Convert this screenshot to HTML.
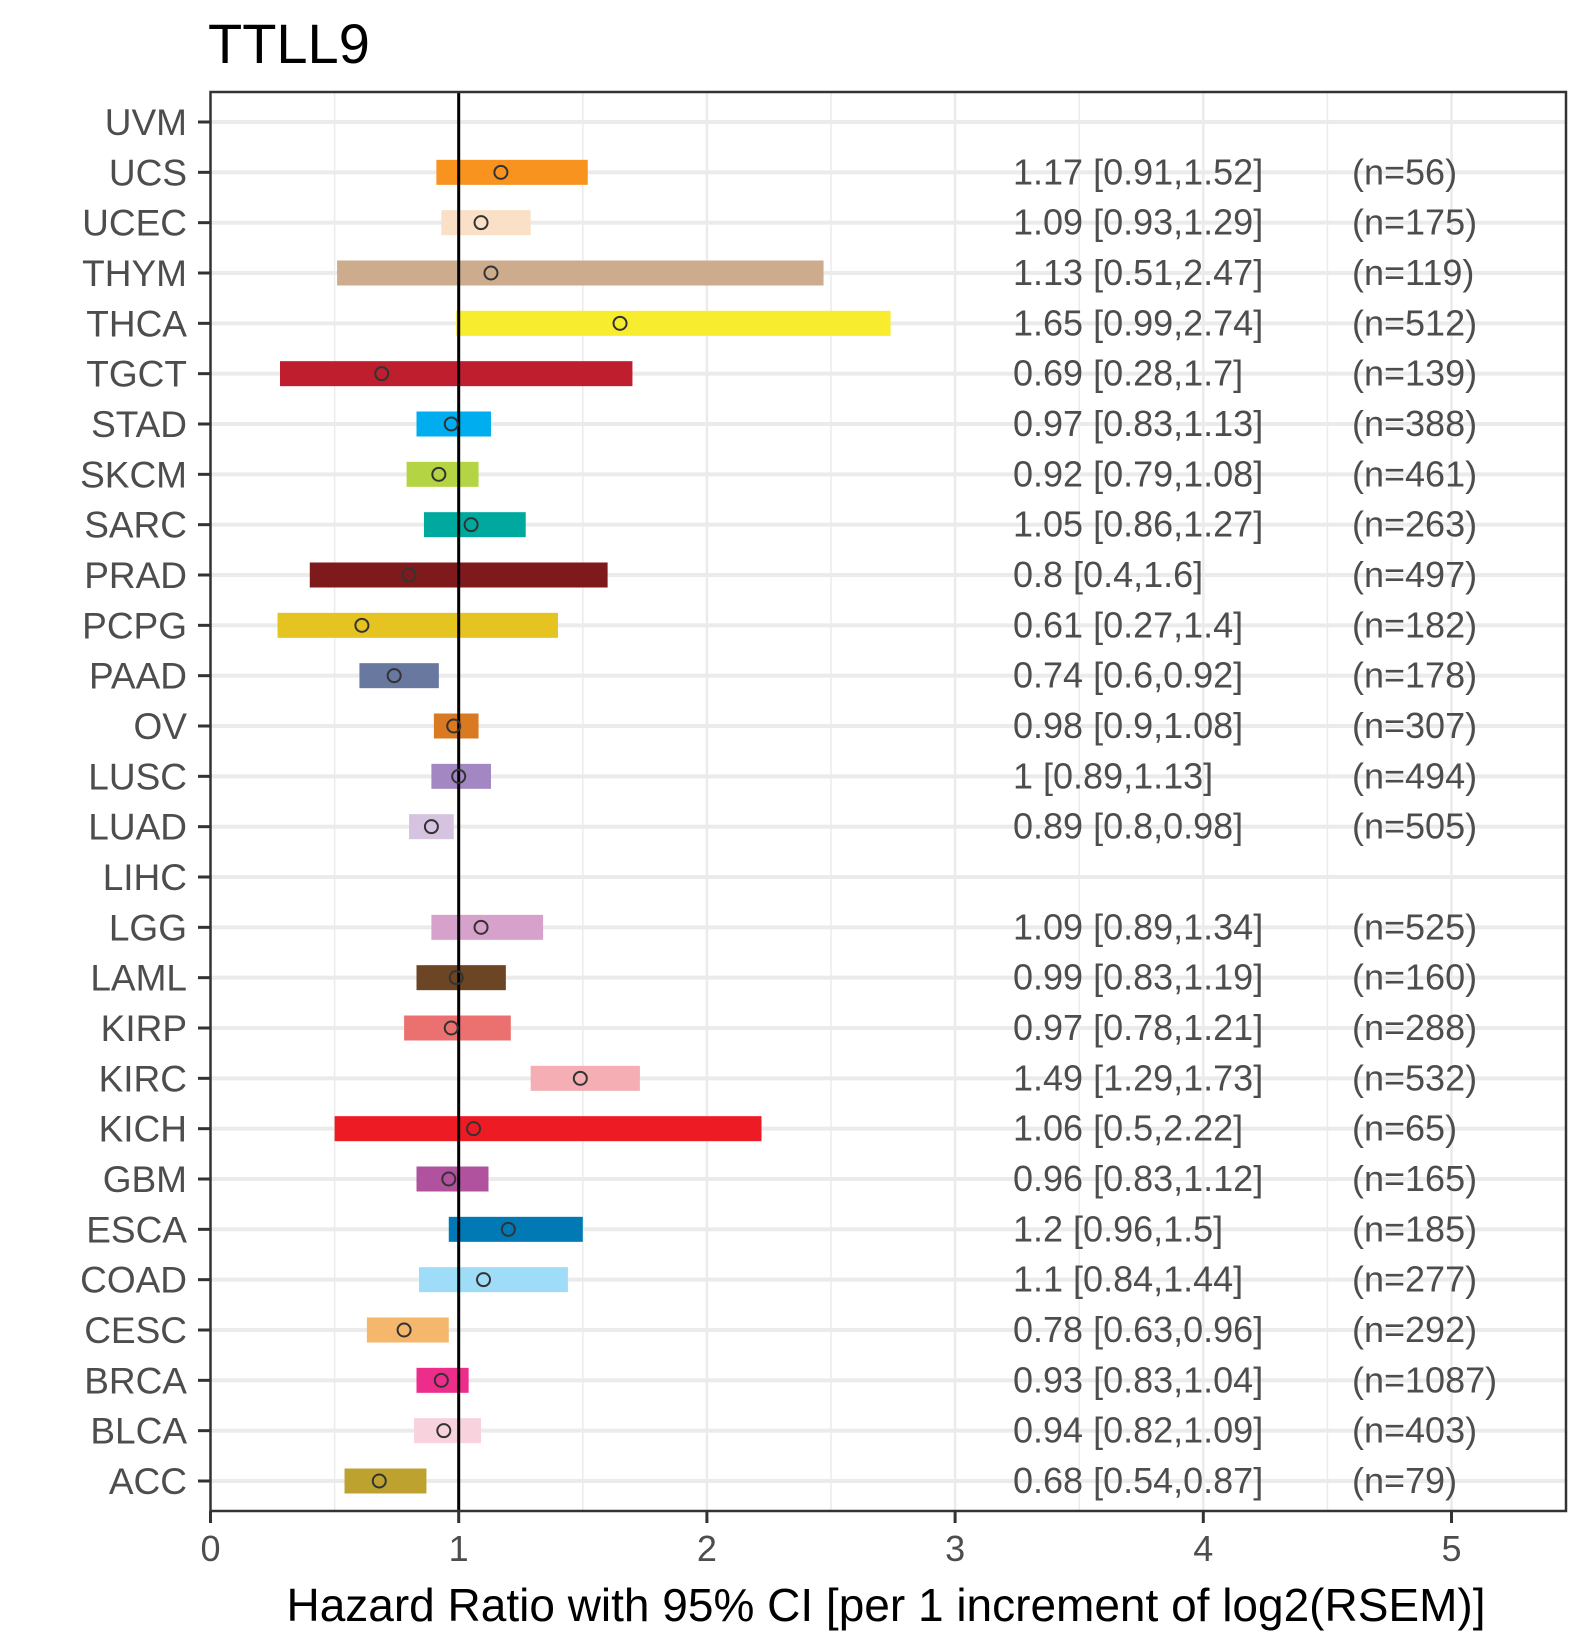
<!DOCTYPE html>
<html><head><meta charset="utf-8"><style>
html,body{margin:0;padding:0;background:#fff;}
svg{display:block;font-family:"Liberation Sans",Arial,sans-serif;}
</style></head><body>
<svg id="chart" width="1590" height="1650" viewBox="0 0 1590 1650" xmlns="http://www.w3.org/2000/svg">
<text x="208" y="63" font-size="56" fill="#000">TTLL9</text>
<g id="grid"></g><g id="bars"></g><g id="ref"></g><g id="pts"></g><g id="axes"></g><g id="labels"></g>
<text x="886" y="1621" font-size="46" text-anchor="middle" fill="#000">Hazard Ratio with 95% CI [per 1 increment of log2(RSEM)]</text>
</svg>
<script>
const categories=["UVM","UCS","UCEC","THYM","THCA","TGCT","STAD","SKCM","SARC","PRAD","PCPG","PAAD","OV","LUSC","LUAD","LIHC","LGG","LAML","KIRP","KIRC","KICH","GBM","ESCA","COAD","CESC","BRCA","BLCA","ACC"];
const hr=[null,1.17,1.09,1.13,1.65,0.69,0.97,0.92,1.05,0.8,0.61,0.74,0.98,1,0.89,null,1.09,0.99,0.97,1.49,1.06,0.96,1.2,1.1,0.78,0.93,0.94,0.68];
const lower=[null,0.91,0.93,0.51,0.99,0.28,0.83,0.79,0.86,0.4,0.27,0.6,0.9,0.89,0.8,null,0.89,0.83,0.78,1.29,0.5,0.83,0.96,0.84,0.63,0.83,0.82,0.54];
const upper=[null,1.52,1.29,2.47,2.74,1.7,1.13,1.08,1.27,1.6,1.4,0.92,1.08,1.13,0.98,null,1.34,1.19,1.21,1.73,2.22,1.12,1.5,1.44,0.96,1.04,1.09,0.87];
const ciLabels=["","1.17 [0.91,1.52]","1.09 [0.93,1.29]","1.13 [0.51,2.47]","1.65 [0.99,2.74]","0.69 [0.28,1.7]","0.97 [0.83,1.13]","0.92 [0.79,1.08]","1.05 [0.86,1.27]","0.8 [0.4,1.6]","0.61 [0.27,1.4]","0.74 [0.6,0.92]","0.98 [0.9,1.08]","1 [0.89,1.13]","0.89 [0.8,0.98]","","1.09 [0.89,1.34]","0.99 [0.83,1.19]","0.97 [0.78,1.21]","1.49 [1.29,1.73]","1.06 [0.5,2.22]","0.96 [0.83,1.12]","1.2 [0.96,1.5]","1.1 [0.84,1.44]","0.78 [0.63,0.96]","0.93 [0.83,1.04]","0.94 [0.82,1.09]","0.68 [0.54,0.87]"];
const nLabels=["","(n=56)","(n=175)","(n=119)","(n=512)","(n=139)","(n=388)","(n=461)","(n=263)","(n=497)","(n=182)","(n=178)","(n=307)","(n=494)","(n=505)","","(n=525)","(n=160)","(n=288)","(n=532)","(n=65)","(n=165)","(n=185)","(n=277)","(n=292)","(n=1087)","(n=403)","(n=79)"];
const xTicks=[0,1,2,3,4,5];
const colors=["#888","#F7931E","#FAE0C6","#CDAB8D","#F7EC2E","#BE1E2D","#00AEEF","#B5D443","#00A99D","#7E1A1C","#E5C320","#69789F","#D97A22","#A287C2","#D6C3DF","#888","#D6A1CB","#6B4524","#EB7070","#F4AEB4","#ED1C24","#B0529E","#0079B5","#9FDCF8","#F4B76B","#EC2D8C","#F8D3DD","#BDA22F"];

const NS="http://www.w3.org/2000/svg";
const L=210.5,R=1566,T=92,B=1511;
const X=v=>L+v*248.2;
const Y=i=>122+i*(1481-122)/(categories.length-1);
function mk(p,tag,at){const e=document.createElementNS(NS,tag);for(const k in at)e.setAttribute(k,at[k]);document.getElementById(p).appendChild(e);return e;}
for(let v=0.5;v<=5.5;v+=0.5){const x=X(v);if(x>R)break;
 const g=mk('grid','line',{x1:x,x2:x,y1:T,y2:B,stroke:'#EBEBEB','stroke-width':Number.isInteger(v)?2.5:1.5});
 
 }
categories.forEach((c,i)=>{const y=Y(i);
 const g=mk('grid','line',{x1:L,x2:R,y1:y,y2:y,stroke:'#EBEBEB','stroke-width':4});
 
 
 const t=mk('labels','text',{x:187,y:y+13,'font-size':37,'text-anchor':'end',fill:'#4D4D4D'});t.textContent=c;
 
 
 const tk=mk('axes','line',{x1:198,x2:L,y1:y,y2:y,stroke:'#333','stroke-width':3});
 
 
 if(hr[i]!=null){
  const b=mk('bars','rect',{x:X(lower[i]),y:y-12.5,width:X(upper[i])-X(lower[i]),height:25,fill:colors[i]});
  
  
  const p=mk('pts','circle',{cx:X(hr[i]),cy:y,r:6.5,fill:'none',stroke:'#333','stroke-width':2});
  
  
  const a=mk('labels','text',{x:1013,y:y+12,'font-size':36,fill:'#4D4D4D'});a.textContent=ciLabels[i];
  
  
  const n=mk('labels','text',{x:1352,y:y+12,'font-size':36,fill:'#4D4D4D'});n.textContent=nLabels[i];
  
  
 }
});
const rl=mk('ref','line',{x1:X(1),x2:X(1),y1:T,y2:B,stroke:'#000','stroke-width':3});


const fr=mk('axes','rect',{x:L,y:T,width:R-L,height:B-T,fill:'none',stroke:'#333','stroke-width':2.5});


xTicks.forEach(v=>{const x=X(v);
 const tk=mk('axes','line',{x1:x,x2:x,y1:B,y2:B+12,stroke:'#333','stroke-width':3});
 
 
 const t=mk('labels','text',{x:x,y:B+50,'font-size':36,'text-anchor':'middle',fill:'#4D4D4D'});t.textContent=v;
 
 
});
</script>
</body></html>
